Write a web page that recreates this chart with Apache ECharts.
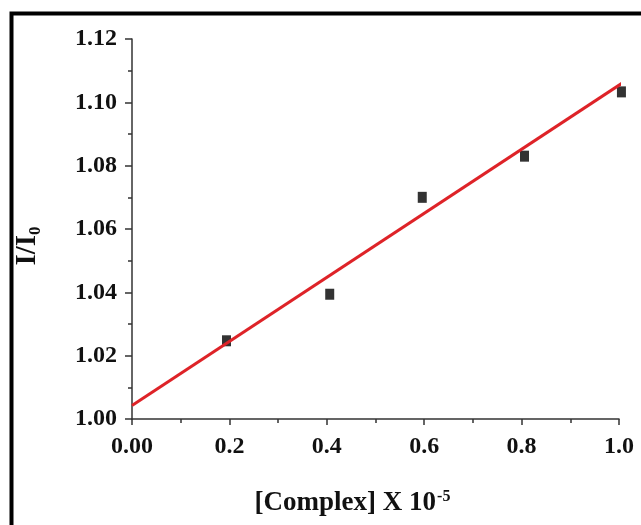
<!DOCTYPE html>
<html>
<head>
<meta charset="utf-8">
<script src="https://cdn.jsdelivr.net/npm/echarts@6/dist/echarts.min.js"></script>
<style>
html,body{margin:0;padding:0;background:#fff;}
#chart{width:641px;height:525px;}
</style>
</head>
<body>
<div id="chart"></div>
<script>
// Data
const complexX = [0.194, 0.406, 0.596, 0.806, 1.005];
const ratioY   = [1.0247, 1.0394, 1.0700, 1.0830, 1.1033];
const fitX = [0, 1.0255];
const fitY = [1.0043, 1.108];
const xTickLabels = {0: '0.00', 0.2: '0.2', 0.4: '0.4', 0.6: '0.6', 0.8: '0.8', 1: '1.0'};

const chart = echarts.init(document.getElementById('chart'), null, {renderer: 'canvas'});
const serif = '"Liberation Serif", "Times New Roman", serif';
const axisColor = '#333';

const option = {
  animation: false,
  backgroundColor: '#fff',
  graphic: [{
    type: 'rect',
    shape: {x: 11.5, y: 13.5, width: 800, height: 700},
    style: {fill: 'none', stroke: '#000', lineWidth: 4},
    silent: true
  }],
  grid: {left: 132, right: 22, top: 39, bottom: 106, containLabel: false},
  xAxis: {
    type: 'value', min: 0, max: 1, interval: 0.2,
    name: '{b|[Complex] X 10}{sup|-5}',
    nameLocation: 'middle', nameGap: 70,
    nameTextStyle: {
      padding: [0, 46, 0, 0],
      rich: {
        b: {fontFamily: serif, fontWeight: 'bold', fontSize: 27, color: '#111'},
        sup: {fontFamily: serif, fontWeight: 'bold', fontSize: 16, color: '#111', verticalAlign: 'bottom', padding: [0, 0, 13, 1]}
      }
    },
    axisLine: {show: true, lineStyle: {color: axisColor, width: 1.5}},
    axisTick: {show: true, inside: false, length: 6, lineStyle: {color: axisColor, width: 1.5}},
    minorTick: {show: true, splitNumber: 2, length: 4, lineStyle: {color: axisColor, width: 1.5}},
    splitLine: {show: false},
    axisLabel: {
      margin: 16, fontFamily: serif, fontWeight: 'bold', fontSize: 24, color: '#111',
      formatter: v => xTickLabels[Math.round(v * 10) / 10]
    }
  },
  yAxis: {
    type: 'value', min: 1.00, max: 1.12, interval: 0.02,
    name: '{b|I/I}{sub|0}',
    nameLocation: 'middle', nameGap: 88, nameRotate: 90,
    nameTextStyle: {
      padding: [0, 0, 0, -34],
      rich: {
        b: {fontFamily: serif, fontWeight: 'bold', fontSize: 29, color: '#111'},
        sub: {fontFamily: serif, fontWeight: 'bold', fontSize: 17, color: '#111', verticalAlign: 'top', padding: [16, 0, 0, 0]}
      }
    },
    axisLine: {show: true, lineStyle: {color: axisColor, width: 1.5}},
    axisTick: {show: true, inside: false, length: 7, lineStyle: {color: axisColor, width: 1.5}},
    minorTick: {show: true, splitNumber: 2, length: 4, lineStyle: {color: axisColor, width: 1.5}},
    splitLine: {show: false},
    axisLabel: {
      margin: 15, fontFamily: serif, fontWeight: 'bold', fontSize: 24, color: '#111',
      formatter: v => v.toFixed(2)
    }
  },
  series: [
    {
      type: 'scatter',
      data: complexX.map((x, i) => [x, ratioY[i]]),
      symbol: 'rect', symbolSize: [9, 11],
      itemStyle: {color: '#000'},
      clip: false, z: 2
    },
    {
      type: 'line',
      data: fitX.map((x, i) => [x, fitY[i]]),
      showSymbol: false, symbol: 'none',
      lineStyle: {color: '#de2328', width: 3},
      clip: false, z: 3
    }
  ]
};
chart.setOption(option);
</script>
</body>
</html>
